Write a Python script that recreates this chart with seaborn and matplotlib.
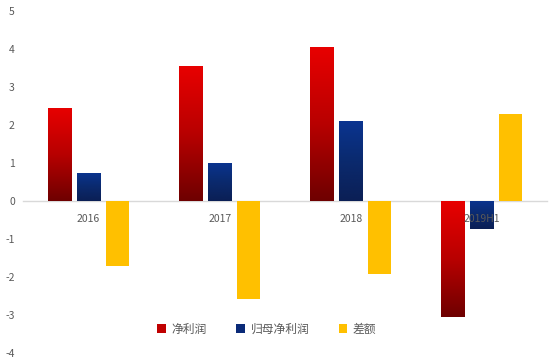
import numpy as np
import pandas as pd
import matplotlib
matplotlib.use("Agg")
import matplotlib.pyplot as plt
import seaborn as sns
from matplotlib.colors import LinearSegmentedColormap

periods = ["2016", "2017", "2018", "2019H1"]
series_names = ["净利润", "归母净利润", "差额"]
net_profit = [2.45, 3.55, 4.05, -3.05]
parent_net_profit = [0.74, 1.0, 2.1, -0.74]
difference = [-1.71, -2.57, -1.93, 2.29]
y_ticks = [-4, -3, -2, -1, 0, 1, 2, 3, 4, 5]

df = pd.DataFrame({
    "period": periods * 3,
    "series": [series_names[0]] * 4 + [series_names[1]] * 4 + [series_names[2]] * 4,
    "value": net_profit + parent_net_profit + difference,
})

sns.set_theme(style="white")
plt.rcParams["font.family"] = ["Noto Sans CJK SC", "DejaVu Sans"]
plt.rcParams["axes.unicode_minus"] = False

fig = plt.figure(figsize=(5.5, 3.57), dpi=100)
ax = fig.add_axes([0.042, 0.011, 0.953, 0.958])

palette = {"净利润": "#C00000", "归母净利润": "#0A2A78", "差额": "#FFC000"}
sns.barplot(data=df, x="period", y="value", hue="series", palette=palette,
            width=0.664, gap=0.2, ax=ax, saturation=1, legend=True,
            edgecolor="none")

grad_maps = {
    0: LinearSegmentedColormap.from_list("r", ["#6E0000", "#B80000", "#E80000"]),
    1: LinearSegmentedColormap.from_list("b", ["#0B1F55", "#0B2A6E", "#0A3490"]),
}
grad = np.linspace(0, 1, 256).reshape(-1, 1)
for ci, cmap in grad_maps.items():
    for p in ax.containers[ci]:
        x0, y0 = p.get_x(), p.get_y()
        w, h = p.get_width(), p.get_height()
        ylo, yhi = min(y0, y0 + h), max(y0, y0 + h)
        im = ax.imshow(grad, cmap=cmap, aspect="auto", origin="lower",
                       extent=[x0, x0 + w, ylo, yhi], zorder=p.get_zorder() + 0.1)
        im.set_clip_path(p)

ax.set_xlim(-0.5, 3.5)
ax.set_ylim(-4, 5)
ax.set_yticks(y_ticks)
ax.set_xlabel("")
ax.set_ylabel("")

for s in ["top", "right", "left"]:
    ax.spines[s].set_visible(False)
ax.spines["bottom"].set_position(("data", 0))
ax.spines["bottom"].set_color("#D9D9D9")
ax.spines["bottom"].set_linewidth(1.0)
ax.spines["bottom"].set_zorder(0.5)
ax.xaxis.set_zorder(10)

ax.tick_params(axis="x", length=0, pad=9, labelsize=7.5, labelcolor="#595959")
ax.tick_params(axis="y", length=0, pad=6, labelsize=7.5, labelcolor="#595959")

ax.legend(loc="center", bbox_to_anchor=(0.465, 0.07), ncol=3, frameon=False,
          fontsize=8.5, handlelength=0.7, handleheight=0.7, handletextpad=0.5,
          columnspacing=2.5, labelcolor="#595959")

fig.savefig("out.png", dpi=100)
